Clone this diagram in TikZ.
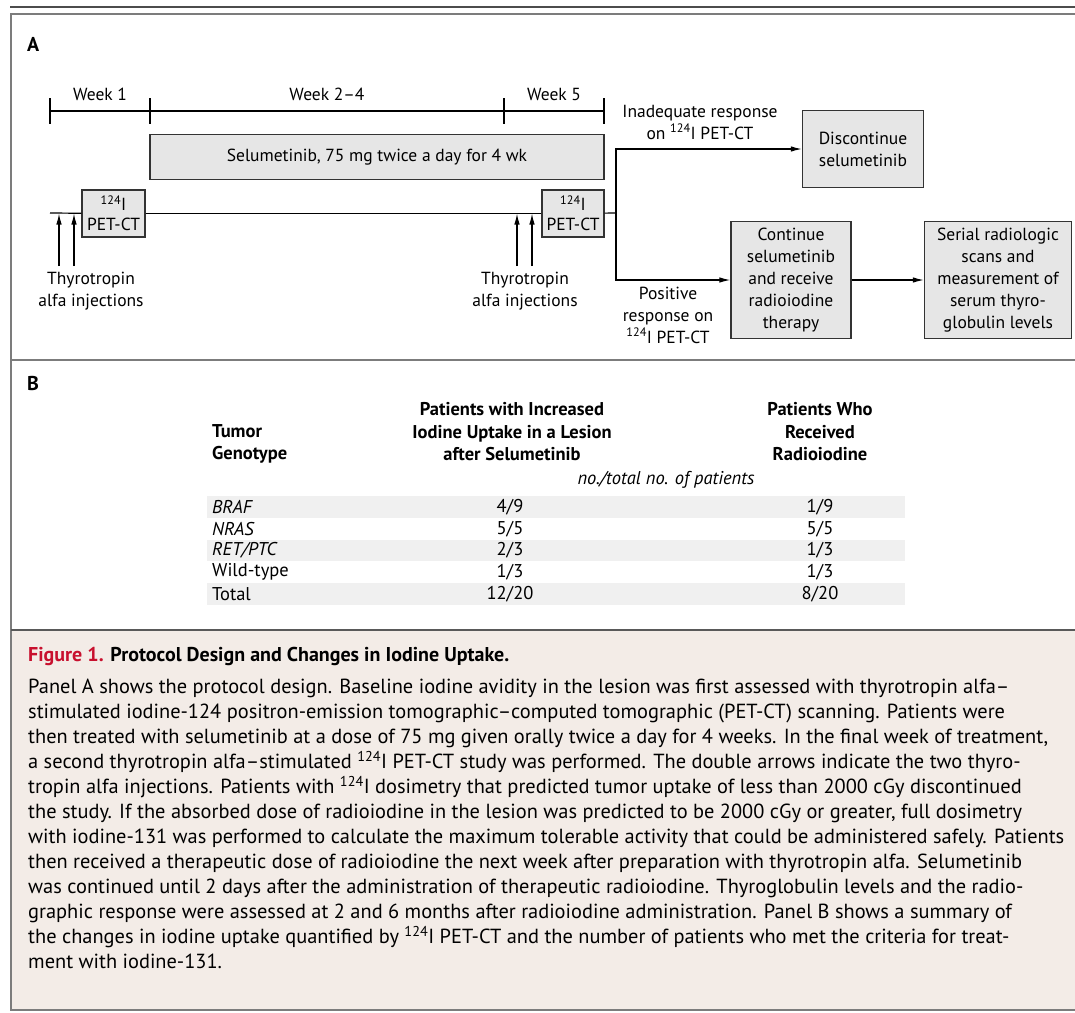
\documentclass[tikz,border=0pt]{standalone}
\usepackage{fontspec}
\setmainfont{PT Sans}
\usetikzlibrary{arrows.meta}
\definecolor{boxgray}{HTML}{E6E6E6}
\definecolor{stripe}{HTML}{F0F0F0}
\definecolor{capbg}{HTML}{F3ECE7}
\definecolor{figred}{HTML}{C8102E}
\definecolor{framegray}{HTML}{7C7C7C}
\begin{document}
\begin{tikzpicture}[x=1pt,y=-1pt,
    every node/.style={inner sep=0pt, font=\fontsize{17.5}{22}\selectfont},
    box/.style={draw=black!80, fill=boxgray, line width=1.3pt, align=center},
    lbl/.style={align=center},
    rule/.style={line width=1.2pt},
    arr/.style={line width=1.2pt, -{Latex[length=11pt,width=5.5pt]}},
    frame/.style={draw=framegray, line width=2pt},
    cell/.style={font=\fontsize{18.5}{22}\selectfont},
    head/.style={font=\fontsize{18.5}{22.5}\selectfont\bfseries, align=center},
    panel/.style={font=\fontsize{20}{22}\selectfont\bfseries, anchor=west}]
  \useasboundingbox (0,0) rectangle (1075,1012);

  % frame and panel rules
  \draw[line width=2.5pt, black!70] (10,7) -- (1075,7);
  \fill[capbg] (11,630) rectangle (1075,1010);
  \draw[frame] (1075,14) -- (11,14) -- (11,1010) -- (1075,1010);
  \draw[frame] (11,360) -- (1075,360);
  \draw[line width=2.5pt, black!65] (11,630) -- (1075,630);

  % panel A
  \node[panel] (pa) at (27,44) {A};
  \draw[rule] (50,111) -- (604,111);
  \foreach \x in {50,150,504,604}
    \draw[rule] (\x,98) -- (\x,124);
  \node (w1) at (100,94) {Week 1};
  \node (w24) at (327,94) {Week 2–4};
  \node (w5) at (554,94) {Week 5};

  \node[box, minimum width=454pt, minimum height=45pt] (selu) at (377,157)
    {Selumetinib, 75 mg twice a day for 4 wk};
  \node[box, minimum width=63pt, minimum height=47pt] (pet1) at (113.5,213.5)
    {\textsuperscript{124}I\\[-2pt]PET-CT};
  \node[box, minimum width=62pt, minimum height=47pt] (pet2) at (573,213.5)
    {\textsuperscript{124}I\\[-2pt]PET-CT};
  \node[box, minimum width=121pt, minimum height=77pt] (disc) at (863,149)
    {Discontinue\\selumetinib};
  \node[box, minimum width=120pt, minimum height=117pt] (cont) at (791,280)
    {Continue\\selumetinib\\and receive\\radioiodine\\therapy};
  \node[box, minimum width=147pt, minimum height=117pt] (serial) at (998,280)
    {Serial radiologic\\scans and\\measurement of\\serum thyro-\\globulin levels};

  \node[lbl] (inad) at (700,122) {Inadequate response\\on \textsuperscript{124}I PET-CT};
  \node[lbl] (pos) at (668,315) {Positive\\response on\\\textsuperscript{124}I PET-CT};
  \node[lbl] (inj1) at (91,291) {Thyrotropin\\alfa injections};
  \node[lbl] (inj2) at (525,291) {Thyrotropin\\alfa injections};

  \coordinate (start) at (50,213);
  \coordinate (split) at (616,213);
  \coordinate (i1) at (59,266);
  \coordinate (i2) at (74,266);
  \coordinate (i3) at (517,266);
  \coordinate (i4) at (532,266);

  \begin{scope}[rule]
    \draw (start) -- (pet1);
    \draw (pet1) -- (pet2);
    \draw (pet2) -- (split);
  \end{scope}
  \begin{scope}[arr]
    \draw (split) |- (disc);
    \draw (split) |- (cont);
    \draw (cont) -- (serial);
    \draw (i1) -- (i1 |- pet1.center);
    \draw (i2) -- (i2 |- pet1.center);
    \draw (i3) -- (i3 |- pet2.center);
    \draw (i4) -- (i4 |- pet2.center);
  \end{scope}

  % panel B
  \node[panel] (pb) at (27,383) {B};
  \foreach \r in {0,2,4}
    \fill[stripe] (207,{496+\r*21.8}) rectangle (905,{496+(\r+1)*21.8});
  \node[head, anchor=west, align=left] (hgeno) at (212,444) {Tumor\\Genotype};
  \node[head] (hinc) at (512,432)
    {Patients with Increased\\Iodine Uptake in a Lesion\\after Selumetinib};
  \node[head] (hrad) at (820,432) {Patients Who\\Received\\Radioiodine};
  \node[cell, font=\fontsize{18.5}{22}\selectfont\itshape] (unit) at (666,480)
    {no./total no. of patients};
  \foreach \g/\p/\q [count=\i from 0] in {%
      {\textit{BRAF}}/{4/9}/{1/9},
      {\textit{NRAS}}/{5/5}/{5/5},
      {\textit{RET/PTC}}/{2/3}/{1/3},
      {Wild-type}/{1/3}/{1/3},
      {Total}/{12/20}/{8/20}} {
    \node[cell, anchor=west] (g\i) at (212,{506.9+\i*21.8}) {\g};
    \node[cell] (p\i) at (510,{506.9+\i*21.8}) {\p};
    \node[cell] (q\i) at (820,{506.9+\i*21.8}) {\q};
  }

  % caption
  \node[anchor=west, font=\fontsize{20}{24}\selectfont\bfseries] (title) at (28,656)
    {\textcolor{figred}{Figure 1.} Protocol Design and Changes in Iodine Uptake.};
  \node[anchor=north west, align=left, font=\fontsize{20.4}{25}\selectfont] (body) at (28,679)
    {Panel A shows the protocol design. Baseline iodine avidity in the lesion was first assessed with thyrotropin alfa–\\
     stimulated iodine-124 positron-emission tomographic–computed tomographic (PET-CT) scanning. Patients were\\
     then treated with selumetinib at a dose of 75 mg given orally twice a day for 4 weeks. In the final week of treatment,\\
     a second thyrotropin alfa–stimulated \textsuperscript{124}I PET-CT study was performed. The double arrows indicate the two thyro-\\
     tropin alfa injections. Patients with \textsuperscript{124}I dosimetry that predicted tumor uptake of less than 2000 cGy discontinued\\
     the study. If the absorbed dose of radioiodine in the lesion was predicted to be 2000 cGy or greater, full dosimetry\\
     with iodine-131 was performed to calculate the maximum tolerable activity that could be administered safely. Patients\\
     then received a therapeutic dose of radioiodine the next week after preparation with thyrotropin alfa. Selumetinib\\
     was continued until 2 days after the administration of therapeutic radioiodine. Thyroglobulin levels and the radio-\\
     graphic response were assessed at 2 and 6 months after radioiodine administration. Panel B shows a summary of\\
     the changes in iodine uptake quantified by \textsuperscript{124}I PET-CT and the number of patients who met the criteria for treat-\\
     ment with iodine-131.};
\end{tikzpicture}
\end{document}
